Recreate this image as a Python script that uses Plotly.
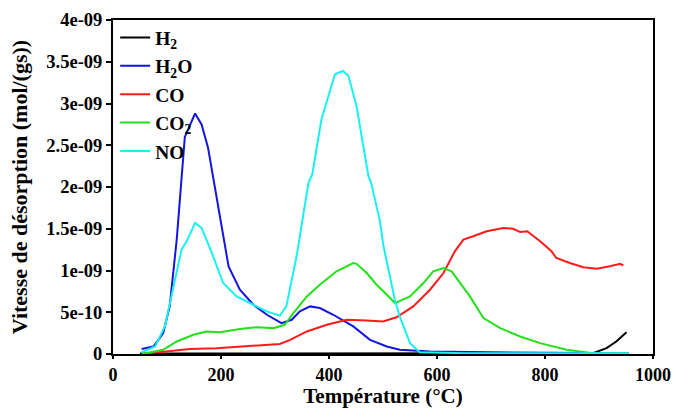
import plotly.graph_objects as go

# Temperature (°C) and desorption rate (x1e-9 mol/(g s))
h2_t = [50, 150, 300, 500, 700, 850, 889, 914, 932, 951]
h2_v = [0.005, 0.005, 0.005, 0.005, 0.005, 0.005, 0.01, 0.07, 0.15, 0.26]

h2o_t = [53, 75, 93, 105, 118, 133, 152, 164, 176, 189, 214, 235, 260, 285, 312, 331, 346,
         365, 383, 408, 445, 476, 507, 531, 587, 700, 800, 955]
h2o_v = [0.06, 0.09, 0.25, 0.57, 1.37, 2.6, 2.88, 2.75, 2.47, 1.97, 1.05, 0.77, 0.59, 0.47,
         0.37, 0.41, 0.51, 0.57, 0.55, 0.47, 0.33, 0.17, 0.09, 0.05, 0.03, 0.02, 0.015, 0.01]

co_t = [53, 99, 142, 192, 253, 309, 328, 359, 396, 433, 470, 500, 525, 556, 587, 612, 633,
        649, 667, 692, 723, 741, 754, 767, 791, 812, 821, 846, 871, 896, 920, 939, 945]
co_v = [0.0, 0.03, 0.06, 0.07, 0.10, 0.12, 0.17, 0.27, 0.35, 0.41, 0.40, 0.39, 0.44, 0.57,
        0.77, 0.97, 1.23, 1.37, 1.41, 1.47, 1.51, 1.50, 1.46, 1.47, 1.35, 1.23, 1.15, 1.09,
        1.04, 1.02, 1.05, 1.08, 1.06]

co2_t = [53, 93, 118, 149, 173, 198, 235, 266, 297, 318, 334, 359, 383, 414, 445, 451, 470,
         488, 504, 522, 550, 575, 593, 612, 627, 646, 661, 686, 717, 754, 791, 840, 889, 955]
co2_v = [0.0, 0.05, 0.15, 0.23, 0.27, 0.26, 0.30, 0.32, 0.31, 0.35, 0.49, 0.69, 0.83, 0.99,
         1.09, 1.08, 0.97, 0.83, 0.73, 0.61, 0.69, 0.85, 0.99, 1.03, 0.99, 0.83, 0.69, 0.43,
         0.31, 0.21, 0.13, 0.05, 0.01, 0.01]

no_t = [53, 78, 96, 109, 127, 138, 152, 164, 183, 204, 229, 260, 285, 309, 321, 340, 362,
        369, 386, 411, 426, 436, 451, 473, 478, 494, 501, 522, 531, 550, 568, 650, 800, 955]
no_v = [0.02, 0.09, 0.33, 0.73, 1.25, 1.37, 1.57, 1.51, 1.21, 0.85, 0.69, 0.59, 0.51, 0.46,
        0.57, 1.17, 2.05, 2.15, 2.81, 3.35, 3.39, 3.33, 2.97, 2.13, 2.05, 1.6, 1.29, 0.65,
        0.45, 0.13, 0.02, 0.01, 0.01, 0.01]

series = [
    ("H<sub>2</sub>", h2_t, h2_v, "#000000"),
    ("H<sub>2</sub>O", h2o_t, h2o_v, "#1515e0"),
    ("CO", co_t, co_v, "#ff1a1a"),
    ("CO<sub>2</sub>", co2_t, co2_v, "#22e01a"),
    ("NO", no_t, no_v, "#1af0f0"),
]

x_ticks = [0, 200, 400, 600, 800, 1000]
y_tickvals = [0, 0.5e-9, 1e-9, 1.5e-9, 2e-9, 2.5e-9, 3e-9, 3.5e-9, 4e-9]
y_ticktext = ["0", "5e-10", "1e-09", "1.5e-09", "2e-09", "2.5e-09", "3e-09", "3.5e-09", "4e-09"]

FONT = "Liberation Serif"

fig = go.Figure()
for name, t, v, color in series:
    fig.add_trace(go.Scatter(
        x=t, y=[val * 1e-9 for val in v], mode="lines", name=name,
        line=dict(color=color, width=2),
    ))

fig.update_layout(
    width=677, height=408,
    margin=dict(l=113, r=24, t=20, b=54),
    paper_bgcolor="white", plot_bgcolor="white",
    font=dict(family=FONT, color="black", size=19, weight="bold"),
    showlegend=True,
    legend=dict(
        x=0.004, y=1.005, xanchor="left", yanchor="top",
        bgcolor="rgba(0,0,0,0)", borderwidth=0,
        font=dict(family=FONT, size=19.5, color="black", weight="bold"),
        itemwidth=30, tracegroupgap=0,
    ),
    xaxis=dict(
        range=[0, 1000], tickvals=x_ticks, automargin=False,
        showgrid=False, zeroline=False,
        showline=True, linecolor="black", linewidth=2, mirror=True,
        ticks="outside", ticklen=3, tickwidth=2, tickcolor="black",
        tickfont=dict(family=FONT, size=18, weight="bold", color="black"),
        title=dict(text="Température (°C)", standoff=6,
                   font=dict(family=FONT, size=21, weight="bold", color="black")),
    ),
    yaxis=dict(
        range=[0, 4e-9], tickvals=y_tickvals, ticktext=y_ticktext, automargin=False,
        showgrid=False, zeroline=False,
        showline=True, linecolor="black", linewidth=2, mirror=True,
        ticks="outside", ticklen=5, tickwidth=2, tickcolor="black",
        tickfont=dict(family=FONT, size=18.5, weight="bold", color="black"),
        title=dict(text="Vitesse de désorption (mol/(gs))", standoff=13,
                   font=dict(family=FONT, size=22, weight="bold", color="black")),
    ),
)

fig.write_html("out.html", config={"displayModeBar": False},
               post_script="document.body.style.margin='0px';")
